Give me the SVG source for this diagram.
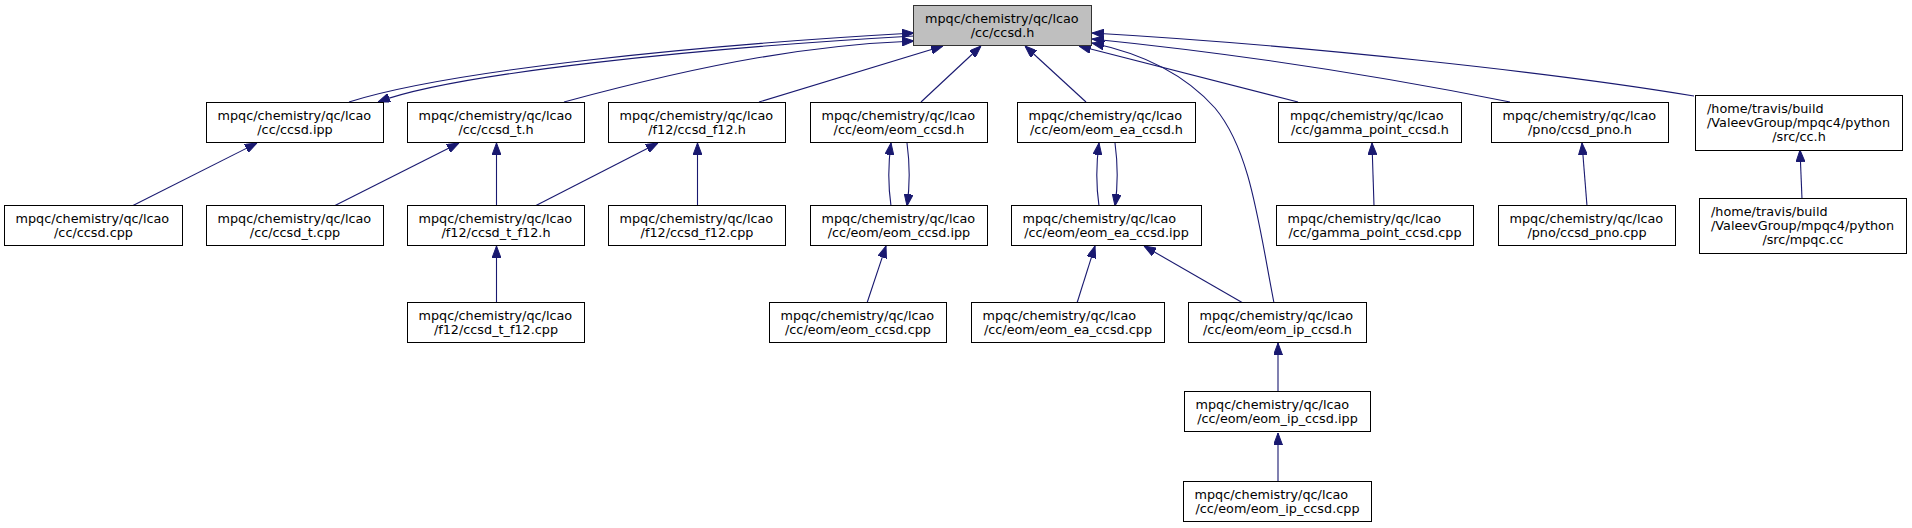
<svg xmlns="http://www.w3.org/2000/svg" width="1912" height="528" viewBox="0 0 1912 528">
<style>
.n rect{fill:#ffffff;stroke:#000000;stroke-width:1}
#n0 rect{fill:#bfbfbf;stroke:#333333}
text{font-family:"DejaVu Sans",sans-serif;font-size:12.8px;fill:#000000}
.m{text-anchor:middle}
.e path{fill:none;stroke:#191970;stroke-width:1.1;marker-end:url(#ah)}
</style>
<defs>
<marker id="ah" viewBox="0 0 12 9" refX="12" refY="4.5" markerWidth="12" markerHeight="9" markerUnits="userSpaceOnUse" orient="auto">
<path d="M0,0 L12,4.5 L0,9 z" fill="#191970" stroke="#191970" stroke-width="1"/>
</marker>
</defs>
<rect width="1912" height="528" fill="#ffffff"/>
<g class="e">
<path d="M349,102 C450,70 700,45 914,33"/>
<path d="M914,36 C700,48 455,73 378,102"/>
<path d="M564,102 C714,61.5 814,45 914,41"/>
<path d="M759,102 L943,46"/>
<path d="M921,102 L981,46"/>
<path d="M1086,102 L1025,46"/>
<path d="M1298,102 L1079,46"/>
<path d="M1510,102 C1400,80 1250,55 1092,39"/>
<path d="M1694,96 C1550,72 1300,45 1092,33"/>
<path d="M1274,303 C1258,220 1250,150 1215,108 C1190,80 1150,55 1092,43"/>
<path d="M132,206 L257,143"/>
<path d="M334,206 L459,143"/>
<path d="M496.5,206 L496.5,143"/>
<path d="M535,206 L658,143"/>
<path d="M697.5,206 L697.5,143"/>
<path d="M891,206 C888,185 888,165 891,143"/>
<path d="M907,143 C910,165 910,185 907,206"/>
<path d="M1099,206 C1096,185 1096,165 1099,143"/>
<path d="M1115,143 C1118,165 1118,185 1115,206"/>
<path d="M867,303 L886,246"/>
<path d="M1077,303 L1095,246"/>
<path d="M1243,303 L1144,246"/>
<path d="M1374,206 L1372,143"/>
<path d="M1587,206 L1582,143"/>
<path d="M1802,199 L1800,150"/>
<path d="M496.5,303 L496.5,246"/>
<path d="M1278,392 L1278,343"/>
<path d="M1278,482 L1278,433"/>
</g>
<g id="n0" class="n"><rect x="913.5" y="5.5" width="178" height="40"/><text x="925" y="23">mpqc/chemistry/qc/lcao</text><text class="m" x="1002.5" y="36.5">/cc/ccsd.h</text></g>
<g id="n1" class="n"><rect x="206.5" y="102.5" width="177" height="40"/><text x="217.5" y="120">mpqc/chemistry/qc/lcao</text><text class="m" x="295" y="133.5">/cc/ccsd.ipp</text></g>
<g id="n2" class="n"><rect x="407.5" y="102.5" width="177" height="40"/><text x="418.5" y="120">mpqc/chemistry/qc/lcao</text><text class="m" x="496" y="133.5">/cc/ccsd_t.h</text></g>
<g id="n3" class="n"><rect x="608.5" y="102.5" width="177" height="40"/><text x="619.5" y="120">mpqc/chemistry/qc/lcao</text><text class="m" x="697" y="133.5">/f12/ccsd_f12.h</text></g>
<g id="n4" class="n"><rect x="810.5" y="102.5" width="177" height="40"/><text x="821.5" y="120">mpqc/chemistry/qc/lcao</text><text class="m" x="899" y="133.5">/cc/eom/eom_ccsd.h</text></g>
<g id="n5" class="n"><rect x="1017.5" y="102.5" width="178" height="40"/><text x="1028.5" y="120">mpqc/chemistry/qc/lcao</text><text class="m" x="1106.5" y="133.5">/cc/eom/eom_ea_ccsd.h</text></g>
<g id="n6" class="n"><rect x="1278.5" y="102.5" width="183" height="40"/><text x="1290" y="120">mpqc/chemistry/qc/lcao</text><text class="m" x="1370" y="133.5">/cc/gamma_point_ccsd.h</text></g>
<g id="n7" class="n"><rect x="1491.5" y="102.5" width="177" height="40"/><text x="1502.5" y="120">mpqc/chemistry/qc/lcao</text><text class="m" x="1580" y="133.5">/pno/ccsd_pno.h</text></g>
<g id="n8" class="n"><rect x="1695.5" y="95.5" width="207" height="55"/><text x="1707" y="112.5">/home/travis/build</text><text x="1707" y="126.5">/ValeevGroup/mpqc4/python</text><text class="m" x="1799" y="140.5">/src/cc.h</text></g>
<g id="n9" class="n"><rect x="4.5" y="205.5" width="178" height="40"/><text x="15.5" y="223">mpqc/chemistry/qc/lcao</text><text class="m" x="93.5" y="236.5">/cc/ccsd.cpp</text></g>
<g id="n10" class="n"><rect x="206.5" y="205.5" width="177" height="40"/><text x="217.5" y="223">mpqc/chemistry/qc/lcao</text><text class="m" x="295" y="236.5">/cc/ccsd_t.cpp</text></g>
<g id="n11" class="n"><rect x="407.5" y="205.5" width="177" height="40"/><text x="418.5" y="223">mpqc/chemistry/qc/lcao</text><text class="m" x="496" y="236.5">/f12/ccsd_t_f12.h</text></g>
<g id="n12" class="n"><rect x="608.5" y="205.5" width="177" height="40"/><text x="619.5" y="223">mpqc/chemistry/qc/lcao</text><text class="m" x="697" y="236.5">/f12/ccsd_f12.cpp</text></g>
<g id="n13" class="n"><rect x="810.5" y="205.5" width="177" height="40"/><text x="821.5" y="223">mpqc/chemistry/qc/lcao</text><text class="m" x="899" y="236.5">/cc/eom/eom_ccsd.ipp</text></g>
<g id="n14" class="n"><rect x="1011.5" y="205.5" width="190" height="40"/><text x="1022.5" y="223">mpqc/chemistry/qc/lcao</text><text class="m" x="1106.5" y="236.5">/cc/eom/eom_ea_ccsd.ipp</text></g>
<g id="n15" class="n"><rect x="1276.5" y="205.5" width="197" height="40"/><text x="1287.5" y="223">mpqc/chemistry/qc/lcao</text><text class="m" x="1375" y="236.5">/cc/gamma_point_ccsd.cpp</text></g>
<g id="n16" class="n"><rect x="1498.5" y="205.5" width="177" height="40"/><text x="1509.5" y="223">mpqc/chemistry/qc/lcao</text><text class="m" x="1587" y="236.5">/pno/ccsd_pno.cpp</text></g>
<g id="n17" class="n"><rect x="1699.5" y="198.5" width="207" height="55"/><text x="1711" y="215.5">/home/travis/build</text><text x="1711" y="229.5">/ValeevGroup/mpqc4/python</text><text class="m" x="1803" y="243.5">/src/mpqc.cc</text></g>
<g id="n18" class="n"><rect x="407.5" y="302.5" width="177" height="40"/><text x="418.5" y="320">mpqc/chemistry/qc/lcao</text><text class="m" x="496" y="333.5">/f12/ccsd_t_f12.cpp</text></g>
<g id="n19" class="n"><rect x="769.5" y="302.5" width="177" height="40"/><text x="780.5" y="320">mpqc/chemistry/qc/lcao</text><text class="m" x="858" y="333.5">/cc/eom/eom_ccsd.cpp</text></g>
<g id="n20" class="n"><rect x="971.5" y="302.5" width="193" height="40"/><text x="982.5" y="320">mpqc/chemistry/qc/lcao</text><text class="m" x="1068" y="333.5">/cc/eom/eom_ea_ccsd.cpp</text></g>
<g id="n21" class="n"><rect x="1188.5" y="302.5" width="178" height="40"/><text x="1199.5" y="320">mpqc/chemistry/qc/lcao</text><text class="m" x="1277.5" y="333.5">/cc/eom/eom_ip_ccsd.h</text></g>
<g id="n22" class="n"><rect x="1184.5" y="391.5" width="186" height="40"/><text x="1195.5" y="409">mpqc/chemistry/qc/lcao</text><text class="m" x="1277.5" y="422.5">/cc/eom/eom_ip_ccsd.ipp</text></g>
<g id="n23" class="n"><rect x="1183.5" y="481.5" width="188" height="40"/><text x="1194.5" y="499">mpqc/chemistry/qc/lcao</text><text class="m" x="1277.5" y="512.5">/cc/eom/eom_ip_ccsd.cpp</text></g>
</svg>
